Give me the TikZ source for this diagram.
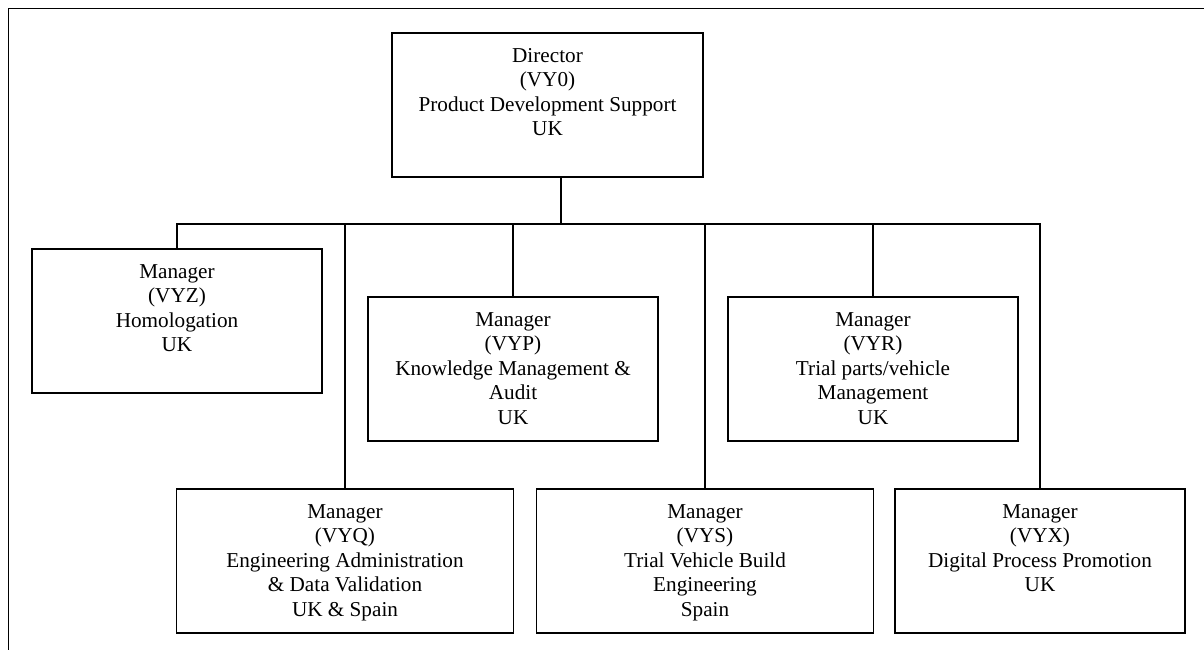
\documentclass[tikz,border=0pt]{standalone}
\usepackage{fontspec}
\setmainfont{Liberation Serif}
\begin{document}
\begin{tikzpicture}[x=1pt,y=-1pt,
  box/.style={draw=black, line width=1.8pt, minimum width=290pt, minimum height=144pt, inner sep=0pt, anchor=north},
  widebox/.style={box, minimum width=337pt},
  lbl/.style={align=center, inner sep=0pt, anchor=north, yshift=-16pt, font=\fontsize{21.2}{24.5}\selectfont},
  link/.style={draw=black, line width=1.8pt}]
\useasboundingbox (0,0) rectangle (1204,650);

% open frame: left and top edges only
\coordinate (fbl) at (8.5,650);
\coordinate (ftl) at (8.5,8.5);
\coordinate (ftr) at (1204,8.5);
\draw[link] (fbl) -- (ftl) -- (ftr);

% boxes
\node[box, minimum width=311pt] (dir) at (547.5,32) {};
\node[box] (vyz) at (177,248) {};
\node[box] (vyp) at (513,296) {};
\node[box] (vyr) at (873,296) {};
\node[widebox] (vyq) at (345,488) {};
\node[widebox] (vys) at (705,488) {};
\node[box] (vyx) at (1040,488) {};

% texts
\node[lbl] (dir-t) at (dir.north) {Director\\(VY0)\\Product Development Support\\UK};
\node[lbl] (vyz-t) at (vyz.north) {Manager\\(VYZ)\\Homologation\\UK};
\node[lbl] (vyp-t) at (vyp.north) {Manager\\(VYP)\\Knowledge Management \&\\Audit\\UK};
\node[lbl] (vyr-t) at (vyr.north) {Manager\\(VYR)\\Trial parts/vehicle\\Management\\UK};
\node[lbl] (vyq-t) at (vyq.north) {Manager\\(VYQ)\\Engineering Administration\\\& Data Validation\\UK \& Spain};
\node[lbl] (vys-t) at (vys.north) {Manager\\(VYS)\\Trial Vehicle Build\\Engineering\\Spain};
\node[lbl] (vyx-t) at (vyx.north) {Manager\\(VYX)\\Digital Process Promotion\\UK};

% connectors
\coordinate (bus) at (561,224);
\draw[link] (dir.south -| bus) -- (bus);
\draw[link] (bus) -| (vyz.north);
\draw[link] (bus) -| (vyq.north);
\draw[link] (bus) -| (vyp.north);
\draw[link] (bus) -| (vys.north);
\draw[link] (bus) -| (vyr.north);
\draw[link] (bus) -| (vyx.north);
\end{tikzpicture}
\end{document}
